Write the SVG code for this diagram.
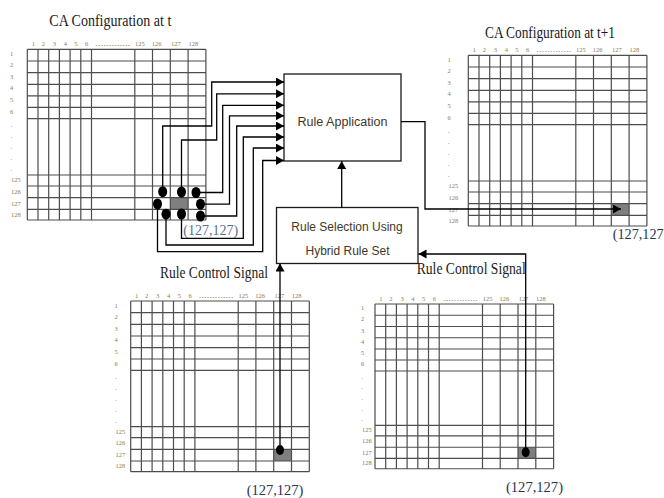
<svg xmlns="http://www.w3.org/2000/svg" xmlns:xlink="http://www.w3.org/1999/xlink" width="664" height="498" viewBox="0 0 664 498">
<style>
.grid{fill:none;stroke:#4d4d4d;stroke-width:1.2}
.cell{fill:#7f7f7f}
.lbl{font-family:"Liberation Serif",serif;font-size:6.5px;fill:#8a7d56}
.mid{text-anchor:middle}
.title{font-family:"Liberation Serif",serif;font-size:16px;fill:#1a1a1a}
.coord{font-family:"Liberation Serif",serif;font-size:14px;fill:#2b3350}
.box{fill:#fff;stroke:#1a1a1a;stroke-width:1.3}
.boxtxt{font-family:"Liberation Sans",sans-serif;font-size:12px;fill:#3f3828;text-anchor:middle}
.wire{fill:none;stroke:#000;stroke-width:1.3}
.dot{fill:#000}
</style>
<defs>
<marker id="arrow" markerUnits="userSpaceOnUse" viewBox="0 0 9 10" markerWidth="9" markerHeight="10" refX="8" refY="4.5" orient="auto">
<path d="M0 0L8 4.5L0 9z" fill="#000"/>
</marker>
<!-- 128x128 cell grid: 6 leading columns/rows, a collapsed middle band, 4 trailing -->
<g id="ca-grid">
<rect class="cell" x="143" y="148.4" width="17.8" height="11.6"/>
<path class="grid" d="M0 0V170.7M10.7 0V170.7M21.4 0V170.7M32.1 0V170.7M42.8 0V170.7M53.5 0V170.7M64.2 0V170.7M107.5 0V170.7M125.2 0V170.7M143 0V170.7M160.8 0V170.7M178.6 0V170.7M0 0H178.6M0 11.7H178.6M0 23.3H178.6M0 35H178.6M0 46.6H178.6M0 58H178.6M0 69.4H178.6M0 125.7H178.6M0 136.7H178.6M0 148.4H178.6M0 160H178.6M0 170.7H178.6"/>
<g class="lbl mid">
<text x="6" y="-3.5">1</text>
<text x="16" y="-3.5">2</text>
<text x="27" y="-3.5">3</text>
<text x="38" y="-3.5">4</text>
<text x="48.7" y="-3.5">5</text>
<text x="59.4" y="-3.5">6</text>
<text x="112.7" y="-3.5">125</text>
<text x="129.4" y="-3.5">126</text>
<text x="148.7" y="-3.5">127</text>
<text x="166" y="-3.5">128</text>
</g>
<text class="lbl" x="68" y="-3.5" textLength="35" lengthAdjust="spacingAndGlyphs">.............</text>
</g>
<g id="row-labels" class="lbl">
<text x="0" y="6.5">1</text>
<text x="0" y="18">2</text>
<text x="0" y="30">3</text>
<text x="0" y="41">4</text>
<text x="0" y="52.5">5</text>
<text x="0" y="64.5">6</text>
<text x="0.5" y="77.5">.</text>
<text x="0.5" y="88.5">.</text>
<text x="0.5" y="99.5">.</text>
<text x="0.5" y="110.5">.</text>
<text x="0.5" y="121.5">.</text>
<text x="1" y="133">125</text>
<text x="1" y="144.3">126</text>
<text x="1" y="156.3">127</text>
<text x="1" y="167.3">128</text>
</g>
</defs>

<!-- configuration at time t -->
<g id="ca-t">
<text class="title" x="49.3" y="26" textLength="122" lengthAdjust="spacingAndGlyphs">CA Configuration at t</text>
<use xlink:href="#ca-grid" transform="translate(27.3,49.3)"/>
<use xlink:href="#row-labels" transform="translate(10,49.3)"/>
<text class="coord" x="183.3" y="235" textLength="55" lengthAdjust="spacingAndGlyphs" style="fill:#5b6d96">(127,127)</text>
</g>

<!-- configuration at time t+1 -->
<g id="ca-t1">
<text class="title" x="485" y="38" textLength="130" lengthAdjust="spacingAndGlyphs">CA Configuration at t+1</text>
<use xlink:href="#ca-grid" transform="translate(468.3,55.3)"/>
<use xlink:href="#row-labels" transform="translate(447.5,55.3)"/>
<text class="coord" x="612.7" y="239" textLength="51" lengthAdjust="spacingAndGlyphs">(127,127</text>
</g>

<!-- left control signal grid -->
<g id="ctrl-left">
<text class="title" x="160" y="278" textLength="108" lengthAdjust="spacingAndGlyphs">Rule Control Signal</text>
<use xlink:href="#ca-grid" transform="translate(130.7,301)"/>
<use xlink:href="#row-labels" transform="translate(114.5,301)"/>
<text class="coord" x="246.7" y="495" textLength="56.6" lengthAdjust="spacingAndGlyphs">(127,127)</text>
</g>

<!-- right control signal grid -->
<g id="ctrl-right">
<text class="title" x="416.7" y="274" textLength="109" lengthAdjust="spacingAndGlyphs">Rule Control Signal</text>
<use xlink:href="#ca-grid" transform="translate(375,304) scale(1,0.965)"/>
<use xlink:href="#row-labels" transform="translate(361,304) scale(1,0.965)"/>
<text class="coord" x="506" y="492" textLength="57" lengthAdjust="spacingAndGlyphs">(127,127)</text>
</g>

<g id="rule-application">
<rect class="box" x="284" y="74" width="117" height="87"/>
<text class="boxtxt" x="342.5" y="126" textLength="90" lengthAdjust="spacingAndGlyphs">Rule Application</text>
</g>

<g id="rule-selection">
<rect class="box" x="276.5" y="207.5" width="141.5" height="56"/>
<text class="boxtxt" x="347" y="230.5">Rule Selection Using</text>
<text class="boxtxt" x="347.5" y="254.5">Hybrid Rule Set</text>
</g>

<g id="connectors">
<!-- neighbourhood of cell (127,127) feeding the rule application -->
<path class="wire" marker-end="url(#arrow)" d="M162.7 191.7V126H211.7V82H284"/>
<path class="wire" marker-end="url(#arrow)" d="M181.5 192V140H216.7V93.8H284"/>
<path class="wire" marker-end="url(#arrow)" d="M196 192.5H222.7V105.3H284"/>
<path class="wire" marker-end="url(#arrow)" d="M200.5 204.2H229.5V115.8H284"/>
<path class="wire" marker-end="url(#arrow)" d="M200.5 216H236.7V126H284"/>
<path class="wire" marker-end="url(#arrow)" d="M181.5 214V238.3H243.3V137H284"/>
<path class="wire" marker-end="url(#arrow)" d="M166 214.2V245H253.3V148H284"/>
<path class="wire" marker-end="url(#arrow)" d="M157.5 204V251.7H262.7V160.5H284"/>
<ellipse class="dot" cx="162.7" cy="191.7" rx="4.5" ry="5.5"/>
<ellipse class="dot" cx="181.5" cy="192" rx="4.5" ry="5.5"/>
<ellipse class="dot" cx="196" cy="192.5" rx="4.5" ry="5.5"/>
<ellipse class="dot" cx="200.5" cy="204.2" rx="4.5" ry="5.5"/>
<ellipse class="dot" cx="200.5" cy="216" rx="4.5" ry="5.5"/>
<ellipse class="dot" cx="181.5" cy="214" rx="4.5" ry="5.5"/>
<ellipse class="dot" cx="166" cy="214.2" rx="4.5" ry="5.5"/>
<ellipse class="dot" cx="157.5" cy="204" rx="4.5" ry="5.5"/>
<!-- selection to application -->
<path class="wire" marker-end="url(#arrow)" d="M341.7 207.5V161"/>
<!-- application result to next configuration -->
<path class="wire" marker-end="url(#arrow)" d="M401 121.7H425V209H621"/>
<!-- control signals to rule selection -->
<path class="wire" marker-end="url(#arrow)" d="M280 450V263.5"/>
<ellipse class="dot" cx="280" cy="450" rx="4" ry="5"/>
<path class="wire" marker-end="url(#arrow)" d="M525.7 452.3V254H418.5"/>
<ellipse class="dot" cx="525.7" cy="452.3" rx="4" ry="5"/>
</g>
</svg>
